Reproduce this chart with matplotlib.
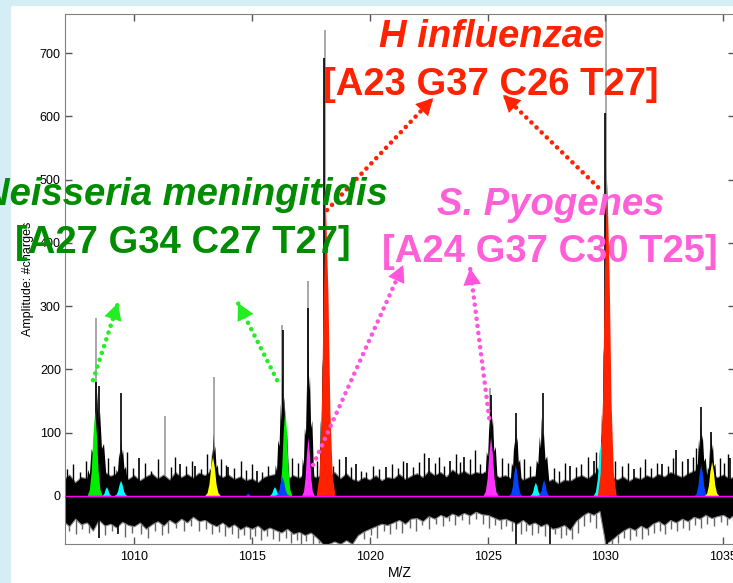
import numpy as np
import matplotlib
matplotlib.use('Agg')
import matplotlib.pyplot as plt
from matplotlib.patches import Rectangle

plt.rcParams['font.family'] = ['Liberation Sans', 'DejaVu Sans']

# noise band of the spectrum, read every 0.25 m/z from 1007.0
mz_start = 1007.0
mz_step = 0.25
noise_hi = [26, 34, 22, 30, 28, 35, 30, 38, 32, 36, 30, 27, 33, 25, 31, 36,
            28, 34, 26, 38, 30, 35, 29, 37, 33, 40, 36, 30, 34, 27, 31, 25,
            28, 22, 30, 33, 35, 30, 27, 33, 29, 36, 32, 30, 34, 30, 38, 28,
            36, 27, 24, 30, 26, 33, 25, 30, 28, 35, 27, 32, 36, 30, 40, 33,
            38, 31, 42, 35, 40, 34, 38, 36, 40, 35, 30, 33, 28, 34, 26, 30,
            32, 25, 22, 27, 20, 26, 24, 30, 33, 28, 36, 40, 38, 30, 26, 31,
            24, 30, 27, 33, 29, 35, 31, 38, 34, 30, 36, 40, 42, 36, 33, 30,
            34, 28, 31]
noise_lo = [-40, -48, -36, -45, -42, -55, -38, -47, -44, -50, -41, -46, -48, -42, -52, -45,
            -40, -47, -38, -44, -36, -42, -33, -40, -38, -44, -48, -42, -50, -45, -53, -48,
            -52, -47, -55, -50, -54, -58, -52, -60, -57, -62, -58, -66, -76, -76, -72, -76,
            -70, -76, -62, -56, -52, -48, -44, -46, -42, -38, -44, -36, -35, -40, -32, -36,
            -30, -34, -28, -32, -27, -31, -25, -29, -30, -34, -38, -36, -40, -44, -38, -46,
            -42, -48, -44, -52, -50, -46, -54, -40, -32, -26, -30, -24, -76, -70, -62, -55,
            -50, -54, -47, -52, -44, -40, -46, -38, -42, -36, -40, -33, -36, -30, -35, -32,
            -30, -36, -28]

# hair spikes sticking out of the noise band
hair_up_mz = [1007.15, 1007.4, 1007.7, 1007.95, 1008.9, 1009.15, 1009.7, 1009.95, 1010.45, 1010.7,
              1011.0, 1011.55, 1011.75, 1012.2, 1012.45, 1012.85, 1013.1, 1013.7, 1013.9, 1014.25,
              1014.55, 1014.75, 1015.0, 1015.45, 1015.7, 1016.7, 1016.95, 1017.15, 1017.75, 1018.45,
              1018.7, 1019.2, 1019.65, 1019.85, 1020.15, 1020.4, 1020.95, 1021.2, 1021.4, 1021.85,
              1022.1, 1022.3, 1022.75, 1022.95, 1023.15, 1023.65, 1023.85, 1024.25, 1024.45, 1024.7,
              1025.6, 1025.85, 1026.55, 1026.8, 1027.8, 1028.05, 1028.3, 1028.75, 1028.95, 1029.25,
              1029.6, 1030.4, 1030.7, 1030.95, 1031.45, 1031.7, 1031.95, 1032.2, 1032.65, 1032.85,
              1033.25, 1033.7, 1033.85, 1034.85, 1035.05, 1035.2]
hair_up_amp = [42, 50, 38, 55, 60, 48, 70, 44, 52, 40,
               58, 45, 62, 47, 55, 43, 66, 58, 49, 44,
               56, 41, 50, 38, 47, 60, 52, 45, 55, 48,
               58, 45, 40, 38, 48, 42, 50, 44, 56, 46,
               54, 68, 52, 61, 48, 66, 54, 58, 72, 50,
               60, 52, 58, 48, 44, 40, 52, 45, 50, 62,
               70, 55, 48, 52, 46, 58, 44, 52, 48, 60,
               55, 62, 75, 60, 52, 66]
hair_dn_mz = [1007.25, 1007.55, 1007.8, 1008.1, 1008.75, 1009.05, 1009.6, 1009.9, 1010.3, 1010.6,
              1010.9, 1011.2, 1011.45, 1011.8, 1012.1, 1012.4, 1012.75, 1013.05, 1013.3, 1013.6,
              1013.85, 1014.15, 1014.4, 1014.65, 1014.9, 1015.15, 1015.4, 1015.65, 1015.9, 1016.15,
              1016.45, 1016.65, 1016.9, 1017.1, 1017.3, 1017.6, 1017.85, 1019.75, 1020.05, 1020.3,
              1020.6, 1020.85, 1021.1, 1021.35, 1021.7, 1021.95, 1022.2, 1022.5, 1022.8, 1023.1,
              1023.35, 1023.6, 1023.9, 1024.2, 1024.5, 1024.8, 1025.05, 1025.3, 1025.55, 1025.8,
              1026.05, 1026.4, 1026.65, 1026.9, 1027.15, 1027.45, 1027.85, 1028.1, 1028.35, 1028.6,
              1028.85, 1029.1, 1029.35, 1029.6, 1030.3, 1030.55, 1030.8, 1031.05, 1031.3, 1031.55,
              1031.8, 1032.05, 1032.3, 1032.55, 1032.8, 1033.05, 1033.3, 1033.55, 1033.8, 1034.05,
              1034.3, 1034.6, 1034.9, 1035.15, 1035.4]
hair_dn_amp = [-55, -60, -52, -58, -62, -56, -65, -58, -60, -66,
               -55, -62, -58, -50, -55, -48, -56, -52, -60, -57,
               -63, -60, -66, -62, -68, -64, -70, -63, -68, -72,
               -66, -74, -70, -76, -72, -76, -74, -68, -62, -66,
               -56, -60, -52, -58, -50, -55, -46, -52, -44, -48,
               -40, -46, -38, -44, -36, -45, -50, -46, -52, -48,
               -56, -60, -55, -62, -58, -64, -60, -66, -62, -68,
               -58, -48, -42, -50, -76, -74, -66, -70, -64, -68,
               -62, -58, -55, -60, -52, -56, -50, -54, -46, -50,
               -44, -48, -42, -46, -40]

# raw spectrum peaks (black)
peak_mz = [1008.45, 1009.45, 1013.38, 1016.3, 1017.4, 1018.12, 1025.15, 1026.2, 1027.3, 1029.85, 1030.05, 1034.05, 1034.5]
peak_amp = [165, 92, 98, 195, 238, 480, 155, 115, 125, 100, 520, 120, 102]
peak_hw = [0.5, 0.38, 0.32, 0.36, 0.3, 0.25, 0.36, 0.33, 0.42, 0.38, 0.25, 0.38, 0.3]

# single tall spikes
spike_mz = [1008.39, 1008.5, 1009.45, 1010.2, 1011.95, 1012.6, 1014.0, 1015.2, 1016.3, 1017.4,
            1018.08, 1019.0, 1019.4, 1020.7, 1021.6, 1022.5, 1023.4, 1024.0, 1025.15, 1026.2,
            1027.36, 1028.5, 1029.5, 1030.0, 1031.2, 1032.4, 1033.0, 1033.5, 1034.07, 1034.5, 1035.3,
            1008.5, 1009.3, 1018.2, 1026.2, 1027.65, 1030.05]
spike_amp = [180, 174, 163, 60, 51, 48, 45, 40, 262, 297,
             692, 62, 50, 45, 52, 60, 55, 62, 160, 131,
             163, 48, 55, 605, 42, 50, 73, 58, 141, 101, 60,
             -66, -60, -76, -76, -76, -76]
grey_mz = [1008.39, 1011.3, 1013.4, 1018.1, 1030.03, 1025.1, 1016.28, 1017.38]
grey_amp = [281, 126, 188, 736, 762, 170, 270, 340]

# fitted components (coloured)
fit_mz = [1008.35, 1008.85, 1009.45, 1013.35, 1014.85, 1015.98, 1016.42, 1016.3, 1017.4, 1018.15,
          1025.15, 1026.2, 1027.05, 1027.4, 1029.82, 1030.08, 1034.07, 1034.53]
fit_amp = [133, 14, 24, 62, 4, 14, 139, 30, 92, 452,
           93, 49, 21, 25, 85, 499, 49, 54]
fit_hw = [0.32, 0.22, 0.28, 0.33, 0.15, 0.25, 0.3, 0.3, 0.27, 0.4,
          0.32, 0.28, 0.25, 0.25, 0.32, 0.4, 0.28, 0.3]
fit_col = ['#00ee00', '#00ffff', '#00ffff', '#ffff00', '#0044ff', '#00ffff', '#00ee00', '#0044ff', '#ff33ff', '#ff2200',
           '#ff33ff', '#0044ff', '#00ffff', '#0044ff', '#00ffff', '#ff2200', '#0044ff', '#ffff00']

# peak outline templates
body_dx = np.array([-1, -0.8, -0.65, -0.5, -0.35, -0.2, -0.08, 0, 0.1, 0.22, 0.38, 0.55, 0.75, 1])
body_dy = np.array([0, 0.25, 0.2, 0.45, 0.4, 0.75, 0.6, 1, 0.7, 0.8, 0.45, 0.5, 0.2, 0])
fit_dx = np.array([-1, -0.7, -0.45, -0.25, 0, 0.25, 0.45, 0.7, 1])
fit_dy = np.array([0, 0.07, 0.3, 0.7, 1, 0.7, 0.3, 0.07, 0])

# arrows (tail -> head), data coords
arrows = [
    ((1008.26, 183), (1009.32, 305), '#22ee22'),
    ((1016.07, 183), (1014.41, 305), '#22ee22'),
    ((1018.19, 452), (1022.69, 629), '#ff2200'),
    ((1029.69, 488), (1025.66, 634), '#ff2200'),
    ((1017.6, 49), (1021.42, 365), '#ff55dd'),
    ((1025.07, 123), (1024.26, 360), '#ff55dd'),
]

W, H = 733, 583
fig = plt.figure(figsize=(W / 100, H / 100), dpi=100)
fig.patch.set_facecolor('white')
fig.patches.append(Rectangle((0, 0), 10 / W, 1, transform=fig.transFigure, color='#d5edf5', zorder=0))
fig.patches.append(Rectangle((0, 1 - 5 / H), 1, 5 / H, transform=fig.transFigure, color='#d5edf5', zorder=0))

ax = fig.add_axes([65 / W, (H - 544) / H, (735 - 65) / W, (544 - 14) / H])

mz = mz_start + mz_step * np.arange(len(noise_hi))
ax.vlines(grey_mz, 0, grey_amp, color='#999999', lw=1.2, zorder=1)
ax.vlines(hair_dn_mz, 0, hair_dn_amp, color='#666666', lw=1.0, zorder=1)
ax.fill_between(mz, noise_lo, noise_hi, color='black', lw=0.8, edgecolor='#888888', zorder=2)
ax.vlines(hair_up_mz, 0, hair_up_amp, color='black', lw=1.0, zorder=2)
for c, a, w in zip(peak_mz, peak_amp, peak_hw):
    ax.fill(c + w * body_dx, a * body_dy, color='black', lw=0, zorder=2)
ax.vlines(spike_mz, 0, spike_amp, color='black', lw=1.2, zorder=2)
for c, a, w, col in zip(fit_mz, fit_amp, fit_hw, fit_col):
    ax.fill(c + w * fit_dx, a * fit_dy, color=col, lw=0, zorder=3)
ax.axhline(0, color='#ff00ff', lw=1, zorder=4)

for tail, head, col in arrows:
    ax.plot([tail[0], head[0]], [tail[1], head[1]], color=col, lw=3.3,
            linestyle=(0, (0.01, 1.55)), dash_capstyle='round', zorder=5, clip_on=False)
    ax.annotate('', xy=head, xytext=tail, annotation_clip=False,
                arrowprops=dict(arrowstyle='-|>,head_length=0.6,head_width=0.32', mutation_scale=20,
                                color=col, lw=0, shrinkA=0, shrinkB=0), zorder=5)

ax.set_xlim(1007.07, 1035.5)
ax.set_ylim(-76, 762)
ax.set_xticks([1010, 1015, 1020, 1025, 1030, 1035])
ax.set_yticks([0, 100, 200, 300, 400, 500, 600, 700])
ax.tick_params(direction='in', top=True, right=True, length=5, width=1, color='#555555', labelsize=9)
ax.tick_params(axis='x', pad=5)
ax.tick_params(axis='y', pad=3)
for s in ax.spines.values():
    s.set_color('#808080')
ax.set_xlabel('M/Z', fontsize=10, labelpad=2)
ax.set_ylabel('Amplitude: #charges', fontsize=9, labelpad=4)

def px(x, y):
    return x / W, 1 - y / H

fig.text(*px(492, 47), 'H influenzae', color='#ff2200', fontsize=27.5, fontweight='bold', style='italic', ha='center', va='baseline')
fig.text(*px(491, 95), '[A23 G37 C26 T27]', color='#ff2200', fontsize=27.5, fontweight='bold', ha='center', va='baseline')
fig.text(*px(388, 205), 'Neisseria meningitidis', color='#008c00', fontsize=27.5, fontweight='bold', style='italic', ha='right', va='baseline')
fig.text(*px(183, 253), '[A27 G34 C27 T27]', color='#008c00', fontsize=27.5, fontweight='bold', ha='center', va='baseline')
fig.text(*px(551, 215), 'S. Pyogenes', color='#ff5fd7', fontsize=27.5, fontweight='bold', style='italic', ha='center', va='baseline')
fig.text(*px(550, 262), '[A24 G37 C30 T25]', color='#ff5fd7', fontsize=27.5, fontweight='bold', ha='center', va='baseline')

fig.savefig('out.png', dpi=100)
